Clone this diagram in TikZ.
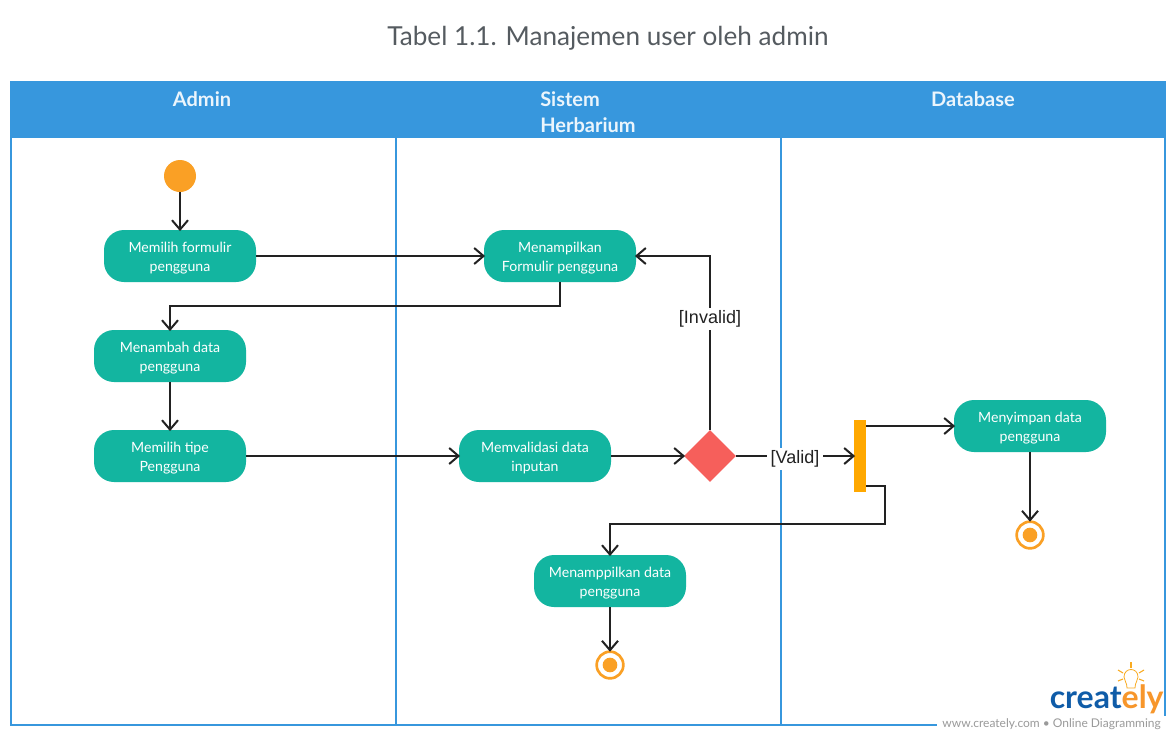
\documentclass[tikz,border=0pt]{standalone}
\usepackage{fontspec}
\setmainfont{Lato}
\newfontfamily\arialf{Liberation Sans}
\usetikzlibrary{arrows.meta,shapes.geometric,calc}
\definecolor{hdr}{HTML}{3797DD}
\definecolor{teal}{HTML}{13B5A0}
\definecolor{orng}{HTML}{FAA025}
\definecolor{redd}{HTML}{F65F5B}
\definecolor{barc}{HTML}{FFA800}
\definecolor{ink}{HTML}{222222}
\definecolor{titlec}{HTML}{555B60}
\definecolor{crblue}{HTML}{0F5CA8}
\definecolor{crorng}{HTML}{F7962B}
\definecolor{crgrey}{HTML}{9A9A9A}
\newcommand{\acttwo}[2]{\vbox{\kern3pt\hbox{\begin{tabular}{@{}c@{}}#1\\#2\end{tabular}}}}
\tikzset{
 x=0.75pt,y=-0.75pt,
 lane/.style={draw=hdr,line width=1.5pt},
 headtext/.style={text=white!90!hdr,font=\bfseries\fontsize{15}{19.5}\selectfont},
 act/.style={draw=none,fill=teal,rounded corners=15pt,minimum width=114pt,minimum height=39pt,inner sep=0pt,text=white,font=\fontsize{10.6}{14.3}\selectfont},
 conn/.style={draw=ink,line width=1.5pt,-{Straight Barb[length=7pt,width=12pt,line width=1.5pt]},shorten >=-1pt},
 startc/.style={circle,fill=orng,minimum size=24pt,inner sep=0pt},
 endc/.style={circle,draw=orng,line width=2pt,fill=white,minimum size=20pt,inner sep=0pt},
 enddot/.style={circle,fill=orng,minimum size=11pt,inner sep=0pt},
 guard/.style={fill=white,inner xsep=3pt,inner ysep=2pt,text=ink,yshift=-2.25pt,font=\arialf\fontsize{13.5}{16}\selectfont},
}
\begin{document}
\begin{tikzpicture}
\useasboundingbox (0,0) rectangle (1175,736);
\fill[white] (0,0) rectangle (1175,736);
\node[text=titlec,font=\fontsize{19.6}{24}\selectfont] (title) at (608,38) {Tabel 1.1. Manajemen user oleh admin};
% swimlanes
\fill[hdr] (11,81.5) rectangle (1165,138);
\draw[lane] (11,81.5) rectangle (1164.5,725);
\draw[lane] (396,138) -- (396,725);
\draw[lane] (781,138) -- (781,725);
\node[headtext] (h1) at (202,99) {Admin};
\node[headtext,anchor=north west,align=left,inner sep=0pt] (h2) at (540,91) {Sistem\\Herbarium};
\node[headtext] (h3) at (973,99) {Database};
% logo mask
\fill[white] (937,716) rectangle (1175,736);
\fill[white] (1045,660) rectangle (1163,716);
% nodes
\node[startc] (start) at (180,176) {};
\node[act] (a1) at (180,256) {\acttwo{Memilih formulir}{pengguna}};
\node[act] (a2) at (170,356) {\acttwo{Menambah data}{pengguna}};
\node[act] (a3) at (170,456) {\acttwo{Memilih tipe}{Pengguna}};
\node[act] (s1) at (560,256) {\acttwo{Menampilkan}{Formulir pengguna}};
\node[act] (s2) at (535,456) {\acttwo{Memvalidasi data}{inputan}};
\node[diamond,fill=redd,minimum width=39pt,minimum height=39pt,inner sep=0pt] (dec) at (710,456) {};
\node[act] (s3) at (610,581) {\acttwo{Menamppilkan data}{pengguna}};
\node[fill=barc,minimum width=9pt,minimum height=54pt,inner sep=0pt] (bar) at (860,456) {};
\node[act] (db) at (1030,426) {\acttwo{Menyimpan data}{pengguna}};
\node[endc] (e1) at (1030,535) {};
\node[enddot] (e1d) at (1030,535) {};
\node[endc] (e2) at (610,665) {};
\node[enddot] (e2d) at (610,665) {};
% connectors
\draw[conn] (start) -- (a1);
\draw[conn] (a1) -- (s1);
\draw[conn] (s1.south) -- ++(0,24) -| (a2.north);
\draw[conn] (a2) -- (a3);
\draw[conn] (a3) -- (s2);
\draw[conn] (s2) -- (dec);
\draw[conn] (dec.north) |- (s1.east) node[pos=0.328,guard] (inv) {[Invalid]};
\draw[conn] (dec.east) -- (bar.west) node[pos=0.5,guard] (val) {[Valid]};
\draw[conn] (bar.east |- db.west) -- (db.west);
\coordinate (bx) at (866,486);
\draw[conn] (bx) -- (885,486) -- (885,524) -| (s3.north);
\draw[conn] (db) -- (e1);
\draw[conn] (s3) -- (e2);
% logo
\node[anchor=base west,inner sep=0pt,text=crblue,font=\bfseries\fontsize{24}{26}\selectfont] (logo) at (1049.5,708.5) {creat\textcolor{crorng}{ely}};
\node[anchor=base east,inner sep=0pt,text=crgrey,font=\fontsize{9}{10}\selectfont] (url) at (1161,727) {www.creately.com • Online Diagramming};
\begin{scope}[draw=crorng!80!yellow,line width=0.8pt]
\draw (1131,662) -- (1131,668);
\draw (1118,670) -- (1123,673);
\draw (1144,670) -- (1139,673);
\draw (1118,681) -- (1123,679);
\draw (1144,681) -- (1139,679);
\draw[fill=white,line width=0.6pt] (1127,688) .. controls (1127,682) and (1124,681) .. (1124,677) .. controls (1124,667) and (1138,667) .. (1138,677) .. controls (1138,681) and (1135,682) .. (1135,688) -- cycle;
\end{scope}
\end{tikzpicture}
\end{document}
